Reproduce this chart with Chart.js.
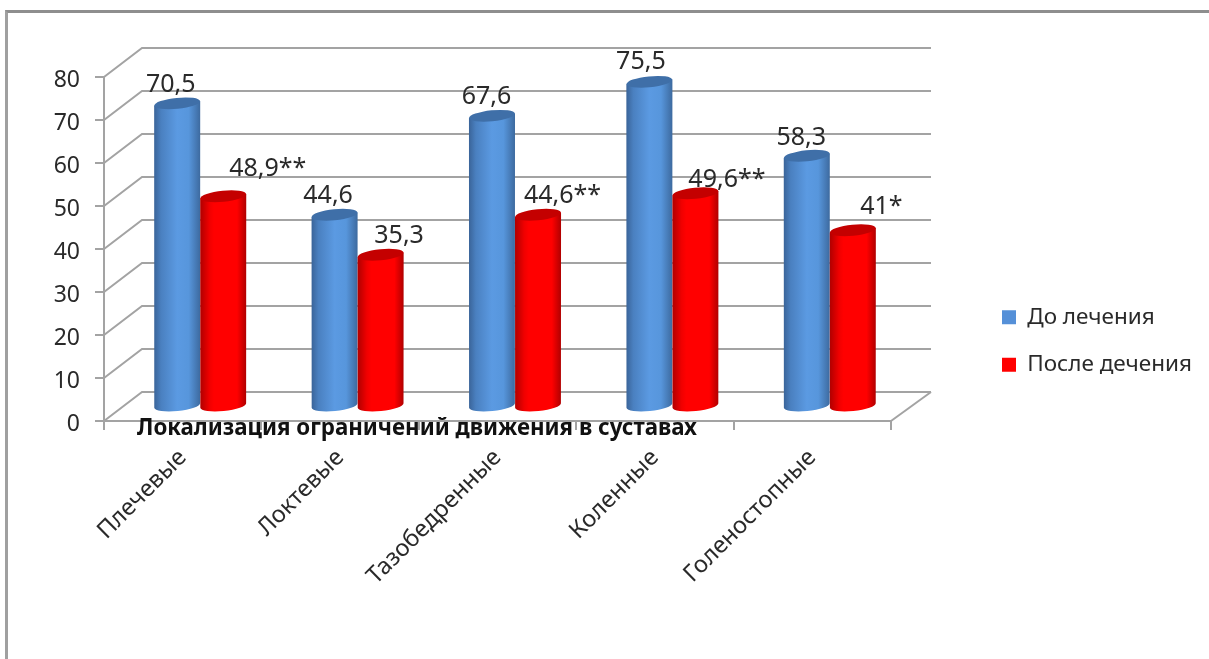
<!DOCTYPE html>
<html lang="ru">
<head>
<meta charset="utf-8">
<title>Локализация ограничений движения в суставах</title>
<script src="https://cdn.jsdelivr.net/npm/chart.js@4/dist/chart.umd.min.js"></script>
<style>
  html, body { margin: 0; background: #fff; overflow: hidden; }
  #frame { position: absolute; left: 5px; top: 10px; right: 0; bottom: 0; border-top: 3px solid #8e8e8e; border-left: 3px solid #a0a0a0; }
  #chart { position: absolute; left: 0; top: 0; }
</style>
</head>
<body>
<div id="frame"></div>
<canvas id="chart" width="1209" height="659"></canvas>
<script>
const categories = ["Плечевые", "Локтевые", "Тазобедренные", "Коленные", "Голеностопные"];
const seriesNames = ["До лечения", "После дечения"];
const beforeValues = [70.5, 44.6, 67.6, 75.5, 58.3];
const afterValues = [48.9, 35.3, 44.6, 49.6, 41];
const beforeLabels = ["70,5", "44,6", "67,6", "75,5", "58,3"];
const afterLabels = ["48,9**", "35,3", "44,6**", "49,6**", "41*"];
const axisTitle = "Локализация ограничений движения в суставах";

const FONT = '"Noto Sans", sans-serif';
const TEXT = "#2a2a2a";
const GRID = "#a3a3a3";
const DEPTH_X = 38;
const DEPTH_Y = 29;
const TILT = -0.1;

// label nudges, the original placed them by hand
const labelShiftX = [[-7, -7, -6, -9, -6], [44, 18, 24, 31, 28]];
const labelShiftY = [[-18, -19, -19, -20, -18], [-27, -19, -19, -13, -23]];
const cylinderColors = [
  { stops: [[0, "#3a6499"], [0.15, "#4a80c0"], [0.5, "#5b9ae2"], [0.75, "#5796dc"], [1, "#3d6a9f"]], top: "#3f6fa8" },
  { stops: [[0, "#b00000"], [0.2, "#f00000"], [0.3, "#ff0000"], [0.8, "#ff0000"], [1, "#b00000"]], top: "#c40000" },
];

function drawCylinder(ctx, bar, colors) {
  const cx = bar.x + DEPTH_X / 2 - 1.5;
  const rx = bar.width / 2;
  const ry = 5.5;
  const topY = bar.y - DEPTH_Y / 2;
  const baseY = bar.base - DEPTH_Y / 2;
  const rise = rx * Math.sin(TILT);

  const grad = ctx.createLinearGradient(cx - rx, 0, cx + rx, 0);
  colors.stops.forEach(([at, color]) => grad.addColorStop(at, color));

  ctx.beginPath();
  ctx.moveTo(cx - rx, topY - rise);
  ctx.ellipse(cx, baseY, rx, ry, TILT, Math.PI, 0, true);
  ctx.lineTo(cx + rx, topY + rise);
  ctx.closePath();
  ctx.fillStyle = grad;
  ctx.fill();

  ctx.beginPath();
  ctx.ellipse(cx, topY, rx, ry, TILT, 0, Math.PI * 2);
  ctx.fillStyle = colors.top;
  ctx.fill();
}

const cylinderPlugin = {
  id: "cylinders",
  afterLayout(chart) {
    // the legend floats right of the plot and takes no room from it
    const legend = chart.legend;
    legend.left = 977;
    legend.right = 1209;
    legend.top = 281;
    legend.bottom = 420;
    legend.adjustHitBoxes();
  },
  beforeDatasetsDraw(chart) {
    const { ctx, chartArea, scales } = chart;
    ctx.save();
    ctx.strokeStyle = GRID;
    ctx.lineWidth = 2;
    scales.y.ticks.forEach((tick) => {
      const y = scales.y.getPixelForValue(tick.value);
      ctx.beginPath();
      ctx.moveTo(chartArea.left, y);
      ctx.lineTo(chartArea.left + DEPTH_X, y - DEPTH_Y);
      ctx.lineTo(chartArea.right + DEPTH_X + 2, y - DEPTH_Y);
      ctx.stroke();
    });
    ctx.beginPath();
    ctx.moveTo(chartArea.right, chartArea.bottom);
    ctx.lineTo(chartArea.right + DEPTH_X + 2, chartArea.bottom - DEPTH_Y);
    ctx.stroke();
    ctx.restore();
  },
  beforeDatasetDraw() {
    return false;
  },
  afterDatasetsDraw(chart) {
    const { ctx } = chart;
    const labels = [beforeLabels, afterLabels];
    ctx.save();
    categories.forEach((_, i) => {
      chart.data.datasets.forEach((ds, d) => {
        drawCylinder(ctx, chart.getDatasetMeta(d).data[i], cylinderColors[d]);
      });
    });
    ctx.font = "25px " + FONT;
    ctx.fillStyle = TEXT;
    ctx.textAlign = "center";
    ctx.textBaseline = "middle";
    categories.forEach((_, i) => {
      chart.data.datasets.forEach((ds, d) => {
        const bar = chart.getDatasetMeta(d).data[i];
        const x = bar.x + DEPTH_X / 2 - 1 + labelShiftX[d][i];
        ctx.fillText(labels[d][i], x, bar.y - DEPTH_Y / 2 + labelShiftY[d][i]);
      });
    });
    ctx.font = "bold 22.3px " + FONT;
    ctx.fillStyle = "#111111";
    ctx.fillText(axisTitle, 417, 429);
    ctx.restore();
  },
};

new Chart(document.getElementById("chart"), {
  type: "bar",
  data: {
    labels: categories,
    datasets: [
      { label: seriesNames[0], data: beforeValues, backgroundColor: "#5590d8" },
      { label: seriesNames[1], data: afterValues, backgroundColor: "#ff0000" },
    ],
  },
  options: {
    responsive: false,
    animation: false,
    categoryPercentage: 0.585,
    barPercentage: 1,
    layout: { padding: { top: 77, right: 318, left: 0, bottom: 0 } },
    plugins: {
      title: { display: false },
      tooltip: { enabled: false },
      legend: {
        position: "chartArea",
        align: "start",
        labels: {
          boxWidth: 14,
          boxHeight: 14,
          padding: 25,
          color: TEXT,
          font: { family: FONT, size: 22.5 },
        },
      },
    },
    scales: {
      x: {
        afterFit: (scale) => { scale.height = 238; },
        border: { color: GRID, width: 2 },
        grid: { drawOnChartArea: false, tickLength: 9, color: GRID, lineWidth: 2, offset: true },
        ticks: {
          autoSkip: false,
          minRotation: 45,
          maxRotation: 45,
          padding: 14,
          color: TEXT,
          font: { family: FONT, size: 23.5 },
        },
      },
      y: {
        min: 0,
        max: 80,
        afterFit: (scale) => { scale.width = 104; },
        border: { color: GRID, width: 2 },
        grid: { drawOnChartArea: false, tickLength: 9, color: GRID, lineWidth: 2 },
        ticks: {
          stepSize: 10,
          padding: 15,
          labelOffset: 3,
          color: TEXT,
          font: { family: FONT, size: 23 },
        },
      },
    },
  },
  plugins: [cylinderPlugin],
});
</script>
</body>
</html>
